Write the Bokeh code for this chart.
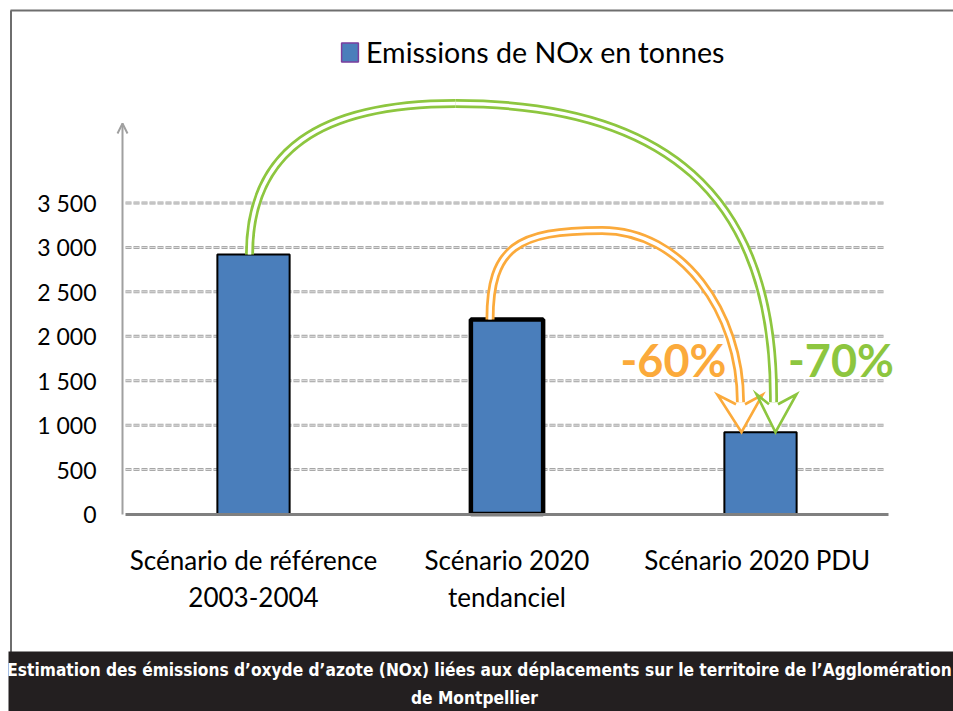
from bokeh.plotting import figure
from bokeh.models import (Range1d, LinearAxis, FixedTicker, ColumnDataSource,
                          Legend, LegendItem, Arrow, OpenHead)
from bokeh.core.properties import value
from bokeh.embed import file_html
from bokeh.resources import INLINE

# ---------------- data ----------------
categories = ["Scénario de référence\n2003-2004", "Scénario 2020\ntendanciel", "Scénario 2020  PDU"]
emissions = [2920, 2190, 920]
y_ticks = [0, 500, 1000, 1500, 2000, 2500, 3000, 3500]
y_tick_labels = ["0", "500", "1 000", "1 500", "2 000", "2 500", "3 000", "3 500"]
series_name = "Emissions de NOx en tonnes"
reduction_labels = ["-60%", "-70%"]
caption_lines = ["Estimation des émissions d’oxyde d’azote (NOx) liées aux déplacements sur le territoire de l’Agglomération",
                 "de Montpellier"]

# ---------------- styles / layout ----------------
W, H = 953, 711
CAT_PX0 = 253                # px of first category centre
CAT_STEP = 253.5             # px per category
ZERO_PY = 513.5              # px (from top) of value 0
PX_PER_UNIT = 0.08886        # px per tonne
BAR_FILL = "#4A7EBB"
BAR_OUTLINE_W = [2, 4.5, 2]
ORANGE = "#FBAA3B"
GREEN = "#8DC63F"
FONT = "Lato"
CAPTION_FONT = "DejaVu Sans Condensed"


def dxp(px):
    return px / CAT_STEP


def dyp(px):  # px downward -> data delta
    return -px / PX_PER_UNIT


def gx(px):
    return (px - CAT_PX0) / CAT_STEP


def gy(py):
    return (ZERO_PY - py) / PX_PER_UNIT


p = figure(width=W, height=H, min_border=0, toolbar_location=None,
           output_backend="svg", x_axis_location=None, y_axis_location=None,
           x_range=Range1d(gx(0), gx(W)), y_range=Range1d(gy(H), gy(0)))
p.xgrid.visible = False
p.ygrid.visible = False
p.outline_line_color = None
p.background_fill_color = "white"
p.border_fill_color = "white"

xs = list(range(len(categories)))

# outer border (left + top)
p.segment(x0=[gx(10.5), gx(10)], y0=[gy(10), gy(10)], x1=[gx(10.5), gx(W)], y1=[gy(652), gy(10)],
          line_color="#6E6E6E", line_width=2)

# dashed grid lines (from tick values)
grid_vals = y_ticks[1:]
p.segment(x0=[gx(125)] * len(grid_vals), x1=[gx(885)] * len(grid_vals), y0=grid_vals, y1=grid_vals,
          line_color="#A6A6A6", line_width=3, line_dash="6 2")
p.segment(x0=[gx(125)] * len(grid_vals), x1=[gx(885)] * len(grid_vals), y0=grid_vals, y1=grid_vals,
          line_color="#E2E2E2", line_width=1, line_dash="6 2")

# legend proxy (zero-size, hidden under first bar) for the purple-bordered swatch
dummy = p.vbar(x=[xs[0]], top=[0], bottom=[0], width=0, fill_color=BAR_FILL,
               line_color="#7B3F9E", line_width=1.5)

# bars
src = ColumnDataSource(dict(x=xs, top=emissions, lw=BAR_OUTLINE_W))
bars = p.vbar(x="x", top="top", width=0.285, source=src, fill_color=BAR_FILL,
              line_color="black", line_width="lw")

legend = Legend(items=[LegendItem(label=series_name, renderers=[dummy])],
                location=(339, 642), orientation="horizontal",
                glyph_width=21, glyph_height=24, label_standoff=6,
                label_text_font=FONT, label_text_font_size="28.6px", label_text_color="black",
                padding=0, margin=0, spacing=0, border_line_color=None, background_fill_alpha=0)
p.add_layout(legend)


# ---------------- curved arrows ----------------
def draw_arrow(color, segs, head):
    for lc, lw in ((color, 9), ("white", 3.5)):
        for (p0, c0, c1, p1) in segs:
            p.bezier(x0=[p0[0]], y0=[p0[1]], x1=[p1[0]], y1=[p1[1]],
                     cx0=[c0[0]], cy0=[c0[1]], cx1=[c1[0]], cy1=[c1[1]],
                     line_color=lc, line_width=lw)
    hx = [h[0] for h in head]
    hy = [h[1] for h in head]
    p.patch(hx, hy, fill_color="white", line_color=None)
    p.line(hx, hy, line_color=color, line_width=2.6, line_join="miter")


def rel(anchor, dx_px, dy_px):
    return (anchor[0] + dxp(dx_px), anchor[1] + dyp(dy_px))


A0 = (xs[0], emissions[0])
A1 = (xs[1], emissions[1])
B = (xs[2], emissions[2])

# orange: tendanciel -> PDU
orange_segs = [
    (rel(A1, -17, 0), rel(A1, -17, -72), rel(A1, 10, -89), rel(A1, 95, -89)),
    (rel(A1, 95, -89), rel(A1, 175, -89), rel(B, -20, -120), rel(B, -20, -30)),
]
orange_head = [rel(B, -24.5, -28), rel(B, -43, -37.5), rel(B, -19, 0), rel(B, 2, -37.5), rel(B, -15.5, -28)]
draw_arrow(ORANGE, orange_segs, orange_head)

# green: référence -> PDU
green_segs = [
    (rel(A0, -4, 0), rel(A0, -4, -104), rel(A0, 67, -151), rel(A0, 202, -151)),
    (rel(A0, 202, -151), rel(A0, 407, -151), rel(B, 15, -241), rel(B, 13, -30)),
]
green_head = [rel(B, 8.5, -28), rel(B, -4, -38), rel(B, 15, 0), rel(B, 36, -38), rel(B, 17.5, -28)]
draw_arrow(GREEN, green_segs, green_head)

# reduction labels
lab_pos = [rel(B, -87, -72), rel(B, 80.5, -72)]
for (lx, ly), txt, col in zip(lab_pos, reduction_labels, [ORANGE, GREEN]):
    p.text(x=[lx], y=[ly], text=[txt], text_color=col,
           text_font=value(FONT), text_font_style="bold", text_font_size="45px",
           text_align="center", text_baseline="middle")

# ---------------- axes ----------------
yaxis = LinearAxis(fixed_location=gx(122), bounds=(0, gy(123)),
                   ticker=FixedTicker(ticks=y_ticks),
                   major_label_overrides={v: s for v, s in zip(y_ticks, y_tick_labels)},
                   axis_line_color="#A0A0A0", axis_line_width=2,
                   major_tick_line_color=None, minor_tick_line_color=None,
                   major_tick_out=0, major_tick_in=0, minor_tick_out=0, minor_tick_in=0,
                   major_label_standoff=26, major_label_text_font=FONT,
                   major_label_text_font_size="23px", major_label_text_color="black")
p.add_layout(yaxis, "left")
p.add_layout(Arrow(end=OpenHead(size=10, line_color="#A0A0A0", line_width=2),
                   x_start=gx(122), y_start=gy(140), x_end=gx(122), y_end=gy(123),
                   line_alpha=0))

xaxis = LinearAxis(fixed_location=0, bounds=(gx(125), gx(888)),
                   ticker=FixedTicker(ticks=xs),
                   major_label_overrides={i: c for i, c in zip(xs, categories)},
                   axis_line_color="#808080", axis_line_width=3,
                   major_tick_line_color=None, minor_tick_line_color=None,
                   major_tick_out=0, major_tick_in=0, minor_tick_out=0, minor_tick_in=0,
                   major_label_standoff=30, major_label_text_font=FONT,
                   major_label_text_font_size="26px", major_label_text_color="black",
                   major_label_text_line_height=1.15)
p.add_layout(xaxis, "below")

# ---------------- caption ----------------
p.quad(left=[gx(8)], right=[gx(W)], top=[gy(651)], bottom=[gy(H)],
       fill_color="#231F20", line_color=None, level="overlay")
p.text(x=[gx(479)], y=[gy(669.5)], text=[caption_lines[0]], text_color="white",
       text_font=value(CAPTION_FONT), text_font_style="bold", text_font_size="17.2px",
       text_align="center", text_baseline="middle", level="overlay")
p.text(x=[gx(474)], y=[gy(697)], text=[caption_lines[1]], text_color="white",
       text_font=value(CAPTION_FONT), text_font_style="bold", text_font_size="17.2px",
       text_align="center", text_baseline="middle", level="overlay")

open("out.html", "w").write(file_html(p, INLINE))
